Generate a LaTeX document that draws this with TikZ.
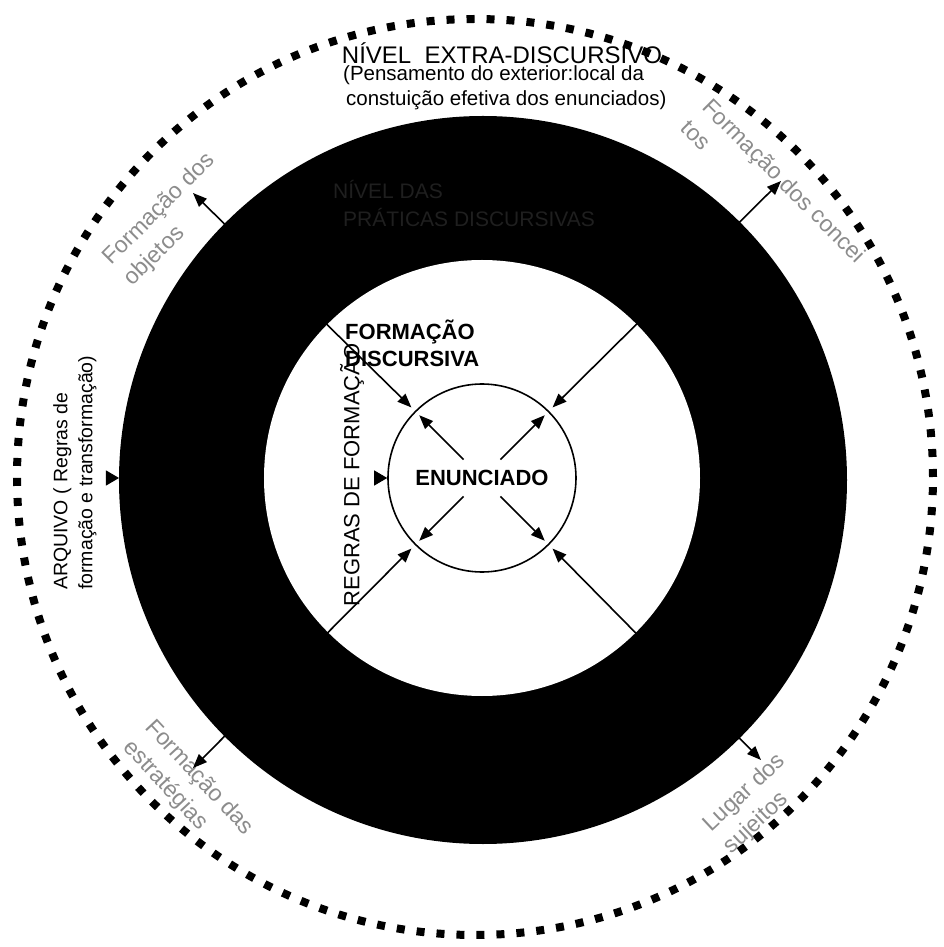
\documentclass[tikz,border=0pt]{standalone}
\usepackage{fontspec}
\setmainfont{Liberation Sans}
\usetikzlibrary{arrows.meta, positioning}

\begin{document}
\begin{tikzpicture}[
    x=1pt, y=1pt,
    ring/.style={line width=1.6pt},
    arrow/.style={line width=1.6pt, -{Triangle[length=14pt,width=11pt]}},
    dblarrow/.style={line width=1.6pt, {Triangle[length=14pt,width=11pt]}-{Triangle[length=14pt,width=11pt]}},
    tipmark/.style={line width=1pt, -{Triangle[length=13pt,width=15pt]}},
    txt/.style={inner sep=0pt, font=\fontsize{20.5}{25}\selectfont},
    heading/.style={inner sep=0pt, align=left, font=\bfseries\fontsize{22}{27}\selectfont},
    faint/.style={inner sep=0pt, align=left, text=black!45, font=\fontsize{23}{30}\selectfont}
]
\useasboundingbox[fill=white] (-475,-470) rectangle (468,477);

\draw[line width=8pt, dash pattern=on 8pt off 12pt] (0,0) circle[radius=458];
\fill[black] (8,-3) circle[radius=364];
\fill[white] (7,-1) circle[radius=218];

\node[circle, draw, ring, fill=white, minimum size=188pt, inner sep=0pt,
      font=\bfseries\fontsize{22}{26}\selectfont] (enunciado) at (7,-1) {ENUNCIADO};

\node[txt, font=\fontsize{24}{28}\selectfont] (nivel) at (27,424) {NÍVEL\ \ EXTRA-DISCURSIVO};
\node[txt, align=left, anchor=west] (pensamento) at (-132,389)
    {(Pensamento do exterior:local da\\\hspace{3pt}constuição efetiva dos enunciados)};
\node[txt, align=left, anchor=west, text=black!88, font=\fontsize{21}{28}\selectfont] (praticas) at (-142,273)
    {NÍVEL DAS\\\hspace{10pt}PRÁTICAS DISCURSIVAS};
\node[heading, anchor=west] (formacao) at (-130,134) {FORMAÇÃO\\DISCURSIVA};
\node[txt, rotate=90, font=\fontsize{22}{26}\selectfont] (regras) at (-123,2) {REGRAS DE FORMAÇÃO};
\node[txt, rotate=90, align=left, anchor=west, font=\fontsize{19.5}{25}\selectfont] (arquivo) at (-400,-113)
    {ARQUIVO ( Regras de\\formação e transformação)};

\node[faint, rotate=45] (labobjetos) at (-305,257) {Formação dos\\objetos};
\node[faint, rotate=-45] (labconceitos) at (299,286) {Formação dos concei\\tos};
\node[faint, rotate=-47] (labestrategias) at (-287,-311) {Formação das\\estratégias};
\node[faint, rotate=43] (labsujeitos) at (280,-327) {Lugar dos\\sujeitos};

\coordinate (objetos) at (-282,284);
\coordinate (conceitos) at (306,296);
\coordinate (estrategias) at (-282,-291);
\coordinate (sujeitos) at (286,-283);
\coordinate (arquivotip) at (-356,-1);
\coordinate (arquivobase) at (-369,-1);
\coordinate (regrasbase) at (-101,-1);

\draw[dblarrow, shorten <=5pt] (enunciado.135) -- (objetos);
\draw[dblarrow, shorten <=5pt] (enunciado.45) -- (conceitos);
\draw[dblarrow, shorten <=5pt] (enunciado.225) -- (estrategias);
\draw[dblarrow, shorten <=5pt] (enunciado.315) -- (sujeitos);

\draw[arrow, shorten <=26pt, shorten >=6pt] (enunciado.center) -- (enunciado.135);
\draw[arrow, shorten <=26pt, shorten >=6pt] (enunciado.center) -- (enunciado.45);
\draw[arrow, shorten <=26pt, shorten >=6pt] (enunciado.center) -- (enunciado.225);
\draw[arrow, shorten <=26pt, shorten >=6pt] (enunciado.center) -- (enunciado.315);

\draw[tipmark] (arquivobase) -- (arquivotip);
\draw[tipmark] (regrasbase) -- (enunciado.west);
\end{tikzpicture}
\end{document}
